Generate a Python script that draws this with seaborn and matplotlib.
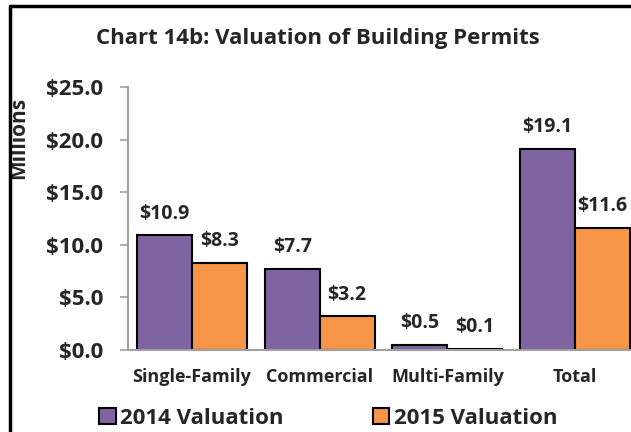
import pandas as pd
import seaborn as sns
import matplotlib.pyplot as plt
from matplotlib.lines import Line2D

# dados do grafico (milhoes de dolares)
categories = ['Single-Family', 'Commercial', 'Multi-Family', 'Total']
val_2014 = [10.9, 7.7, 0.5, 19.1]
val_2015 = [8.3, 3.2, 0.1, 11.6]
series = ['2014 Valuation', '2015 Valuation']
y_ticks = [0, 5, 10, 15, 20, 25]

df = pd.DataFrame({
    'category': categories * 2,
    'serie': [series[0]] * 4 + [series[1]] * 4,
    'value': val_2014 + val_2015,
})

sns.set_style('white')
plt.rcParams['font.family'] = ['Open Sans', 'DejaVu Sans']
plt.rcParams['font.weight'] = 'bold'

fig = plt.figure(figsize=(6.31, 4.32), dpi=100)
ax = fig.add_axes([128 / 631, 82 / 432, 511 / 631, 263 / 432])

sns.barplot(data=df, x='category', y='value', hue='serie', ax=ax,
            palette=['#8064A2', '#F79646'], saturation=1, width=0.86,
            edgecolor='black', linewidth=1.5, errorbar=None)

for cont in ax.containers:
    vals = [b.get_height() for b in cont]
    ax.bar_label(cont, labels=[f'${v:.1f}' for v in vals], padding=8.5,
                 fontsize=14, fontweight='bold')

ax.set_ylim(0, 25)
ax.set_yticks(y_ticks)
ax.set_yticklabels([f'${t:.1f}' for t in y_ticks], fontsize=16, fontweight='bold')
ax.set_xlabel('')
ax.set_ylabel('Millions', fontsize=15, fontweight='bold')
ax.yaxis.set_label_coords(-0.193, 0.806)

for s in ['top', 'right']:
    ax.spines[s].set_visible(False)
for s in ['left', 'bottom']:
    ax.spines[s].set_color('#a0a0a0')
    ax.spines[s].set_linewidth(1.5)

ax.tick_params(axis='y', length=6, width=1.2, color='#a0a0a0', pad=12, left=True)
ax.tick_params(axis='x', length=0, pad=13, labelsize=13)
for lab in ax.get_xticklabels():
    lab.set_fontweight('bold')

ax.set_title('')
fig.text(0.504, 0.91, 'Chart 14b: Valuation of Building Permits',
         ha='center', va='center', fontsize=16, fontweight='bold')

handles, labels = ax.get_legend_handles_labels()
ax.get_legend().remove()
fig.legend(handles, labels, loc='center', bbox_to_anchor=(0.52, 0.032), ncol=2,
           frameon=False, prop={'size': 16, 'weight': 'bold'},
           handlelength=0.75, handleheight=0.75, handletextpad=0.2,
           columnspacing=4.0)

# moldura do grafico (so topo e esquerda aparecem)
fig.add_artist(Line2D([10 / 631, 10 / 631], [0, 1 - 6 / 432], color='black', lw=2.5,
                      transform=fig.transFigure))
fig.add_artist(Line2D([10 / 631, 1], [1 - 6 / 432, 1 - 6 / 432], color='black', lw=2.5,
                      transform=fig.transFigure))

fig.savefig('out.png', dpi=100)
